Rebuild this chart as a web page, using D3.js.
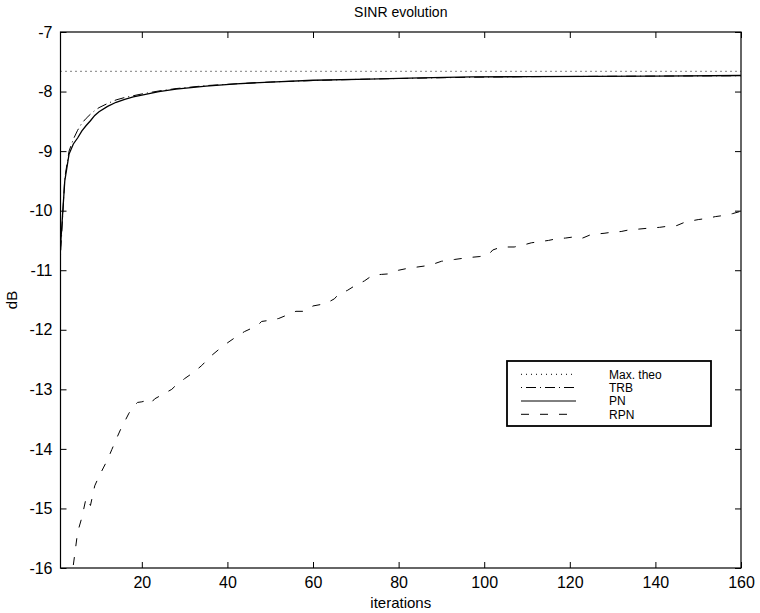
<!DOCTYPE html>
<html>
<head>
<meta charset="utf-8">
<script src="https://cdn.jsdelivr.net/npm/d3@7"></script>
<style>
  body { margin: 0; background: #fff; }
  text { font-family: "Liberation Sans", Arial, Helvetica, sans-serif; }
</style>
</head>
<body>
<script>
// data
const maxTheoIter = [1, 160];
const maxTheo = [-7.66, -7.66];

const topIter = [1, 2, 3, 4, 5, 6, 7, 8, 9, 10, 12, 14, 16, 18, 20, 24, 28, 35, 42, 50, 60, 73, 85, 97, 110, 125, 140, 160];
const trb = [-10.75, -9.45, -9.0, -8.8, -8.65, -8.53, -8.45, -8.38, -8.32, -8.27, -8.2, -8.14, -8.1, -8.07, -8.04, -7.99, -7.95, -7.9, -7.87, -7.84, -7.815, -7.79, -7.775, -7.76, -7.75, -7.745, -7.74, -7.735];
const pn = [-10.6, -9.5, -9.05, -8.88, -8.78, -8.66, -8.57, -8.49, -8.4, -8.34, -8.25, -8.18, -8.13, -8.09, -8.06, -8.0, -7.96, -7.91, -7.87, -7.84, -7.81, -7.79, -7.77, -7.755, -7.75, -7.745, -7.74, -7.73];

const rpnIter = [4, 5, 6, 7, 8, 9, 10, 11, 12, 13, 14, 15, 16, 17, 18, 19, 20, 21, 22, 23, 24, 25, 26, 27, 28, 30, 32, 34, 36, 38, 40, 42, 44, 47, 48, 50, 52, 54, 56, 58, 60, 63, 65, 66, 68, 70, 72, 74, 76, 78, 80, 82, 84, 86, 88, 90, 93, 96, 99, 101, 102, 104, 107, 109, 111, 113, 115, 117, 119, 122, 123, 125, 128, 130, 132, 134, 136, 139, 141, 143, 145, 147, 150, 152, 154, 156, 158, 160];
const rpn = [-15.95, -15.4, -15.15, -14.82, -14.95, -14.62, -14.46, -14.32, -14.18, -14.01, -13.84, -13.68, -13.54, -13.4, -13.29, -13.22, -13.21, -13.19, -13.24, -13.16, -13.12, -13.09, -13.04, -13.0, -12.93, -12.82, -12.72, -12.6, -12.45, -12.33, -12.22, -12.12, -12.03, -11.93, -11.86, -11.84, -11.81, -11.75, -11.69, -11.69, -11.6, -11.56, -11.48, -11.4, -11.34, -11.25, -11.18, -11.08, -11.07, -11.06, -11.0, -10.97, -10.95, -10.93, -10.9, -10.85, -10.82, -10.79, -10.77, -10.74, -10.66, -10.61, -10.61, -10.58, -10.54, -10.52, -10.5, -10.47, -10.46, -10.43, -10.46, -10.4, -10.38, -10.36, -10.35, -10.32, -10.31, -10.29, -10.28, -10.26, -10.25, -10.19, -10.15, -10.13, -10.1, -10.08, -10.05, -10.01];

const xTicks = [20, 40, 60, 80, 100, 120, 140, 160];
const yTicks = [-16, -15, -14, -13, -12, -11, -10, -9, -8, -7];

const legendNames = ["Max. theo", "TRB", "PN", "RPN"];
const dashes = ["1,4", "1,4,10,4", null, "8,11"];

const W = 760, H = 613;
const mLeft = 60.5, mRight = 741, mTop = 32, mBottom = 568;

const svg = d3.select("body").append("svg")
    .attr("width", W)
    .attr("height", H);

const x = d3.scaleLinear().domain([1, 160]).range([mLeft, mRight]);
const y = d3.scaleLinear().domain([-16, -7]).range([mBottom, mTop]);

svg.append("clipPath").attr("id", "plot")
  .append("rect")
    .attr("x", mLeft).attr("y", mTop)
    .attr("width", mRight - mLeft).attr("height", mBottom - mTop);

// axes with inward ticks on all 4 sides
const tk = 6;
svg.append("g").attr("transform", `translate(0,${mBottom})`)
    .call(d3.axisBottom(x).tickValues(xTicks).tickSizeInner(-tk).tickSizeOuter(0).tickPadding(9));
svg.append("g").attr("transform", `translate(0,${mTop})`)
    .call(d3.axisTop(x).tickValues(xTicks).tickSizeInner(-tk).tickSizeOuter(0).tickFormat(""));
svg.append("g").attr("transform", `translate(${mLeft},0)`)
    .call(d3.axisLeft(y).tickValues(yTicks).tickSizeInner(-tk).tickSizeOuter(0).tickPadding(8)
      .tickFormat(d => String(d)));
svg.append("g").attr("transform", `translate(${mRight},0)`)
    .call(d3.axisRight(y).tickValues(yTicks).tickSizeInner(-tk).tickSizeOuter(0).tickFormat(""));

svg.selectAll(".domain").remove();
svg.selectAll(".tick line").attr("stroke", "#000").attr("stroke-width", 1);
svg.selectAll(".tick text")
    .attr("fill", "#000")
    .attr("font-size", 16)
    .attr("font-family", "Liberation Sans, Arial, sans-serif");

svg.append("rect")
    .attr("x", mLeft).attr("y", mTop)
    .attr("width", mRight - mLeft).attr("height", mBottom - mTop)
    .attr("fill", "none")
    .attr("stroke", "#000")
    .attr("stroke-width", 1.2);

// curves
const line = d3.line().x(d => x(d[0])).y(d => y(d[1]));
const series = [
  d3.zip(maxTheoIter, maxTheo),
  d3.zip(topIter, trb),
  d3.zip(topIter, pn),
  d3.zip(rpnIter, rpn)
];

const g = svg.append("g").attr("clip-path", "url(#plot)");
series.forEach((s, i) => {
  g.append("path")
      .datum(s)
      .attr("d", line)
      .attr("fill", "none")
      .attr("stroke", "#000")
      .attr("stroke-width", i == 2 ? 1.3 : 1)
      .attr("stroke-dasharray", dashes[i]);
});

// labels
svg.append("text")
    .attr("x", (mLeft + mRight) / 2).attr("y", 17)
    .attr("text-anchor", "middle")
    .attr("font-size", 14)
    .text("SINR evolution");

svg.append("text")
    .attr("x", (mLeft + mRight) / 2).attr("y", 608)
    .attr("text-anchor", "middle")
    .attr("font-size", 15)
    .text("iterations");

svg.append("text")
    .attr("transform", `translate(17,${(mTop + mBottom) / 2}) rotate(-90)`)
    .attr("text-anchor", "middle")
    .attr("font-size", 15)
    .text("dB");

// legend
const lg = svg.append("g");
lg.append("rect")
    .attr("x", 507).attr("y", 361)
    .attr("width", 204).attr("height", 65)
    .attr("fill", "#fff")
    .attr("stroke", "#000")
    .attr("stroke-width", 1.8);

const rowY = [374.3, 387.5, 401, 414.3];
legendNames.forEach((name, i) => {
  lg.append("line")
      .attr("x1", 521).attr("x2", 576)
      .attr("y1", rowY[i]).attr("y2", rowY[i])
      .attr("stroke", "#000")
      .attr("stroke-width", 1)
      .attr("stroke-dasharray", dashes[i]);
  lg.append("text")
      .attr("x", 609).attr("y", rowY[i] + 4.2)
      .attr("font-size", 12)
      .text(name);
});
</script>
</body>
</html>
